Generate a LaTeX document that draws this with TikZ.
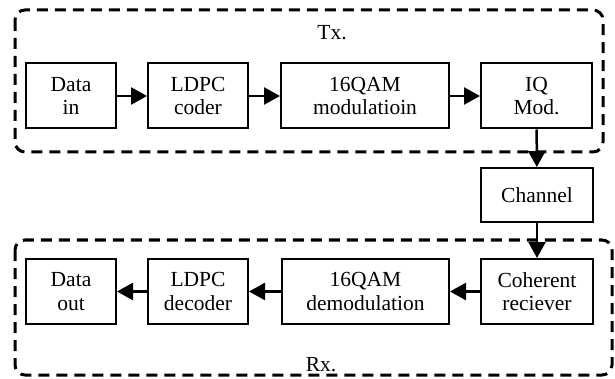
\documentclass[tikz,border=0pt]{standalone}
\usepackage{fontspec}
\setmainfont{Liberation Serif}
\usetikzlibrary{arrows.meta}
\begin{document}
\begin{tikzpicture}[x=1pt,y=-1pt,
  blk/.style={draw,line width=2pt,inner sep=0pt,align=center,minimum height=65pt,
    font=\fontsize{21.5}{23.5}\selectfont},
  grp/.style={draw,line width=3pt,dash pattern=on 11pt off 7pt,rounded corners=10pt},
  lbl/.style={font=\fontsize{21.5}{23.5}\selectfont,inner sep=0pt},
  arr/.style={line width=2.5pt,-{Triangle[length=16pt,width=17pt]}}]
\useasboundingbox (0,0) rectangle (615,379);
\draw[grp] (15,10) rectangle (603,152);
\draw[grp] (15,240) rectangle (612,375);
\node[lbl] (tx) at (332,33) {Tx.};
\node[lbl] (rx) at (321,365) {Rx.};
\node[blk,minimum width=90pt] (din) at (71,96) {Data\\in};
\node[blk,minimum width=100pt] (ldpc) at (198,96) {LDPC\\coder};
\node[blk,minimum width=168pt] (qam) at (365,96) {16QAM\\modulatioin};
\node[blk,minimum width=111pt] (iq) at (536.5,96) {IQ\\Mod.};
\node[blk,minimum width=112pt,minimum height=54pt] (ch) at (537,195) {Channel};
\node[blk,minimum width=112pt] (coh) at (537,291.5) {Coherent\\reciever};
\node[blk,minimum width=167pt] (dqam) at (365.5,291.5) {16QAM\\demodulation};
\node[blk,minimum width=100pt] (dldpc) at (198,291.5) {LDPC\\decoder};
\node[blk,minimum width=90pt] (dout) at (71,291.5) {Data\\out};
\draw[arr] (din) -- (ldpc);
\draw[arr] (ldpc) -- (qam);
\draw[arr] (qam) -- (iq);
\draw[arr] (iq) -- (ch);
\draw[arr] (ch) -- (coh);
\draw[arr] (coh) -- (dqam);
\draw[arr] (dqam) -- (dldpc);
\draw[arr] (dldpc) -- (dout);
\end{tikzpicture}
\end{document}
